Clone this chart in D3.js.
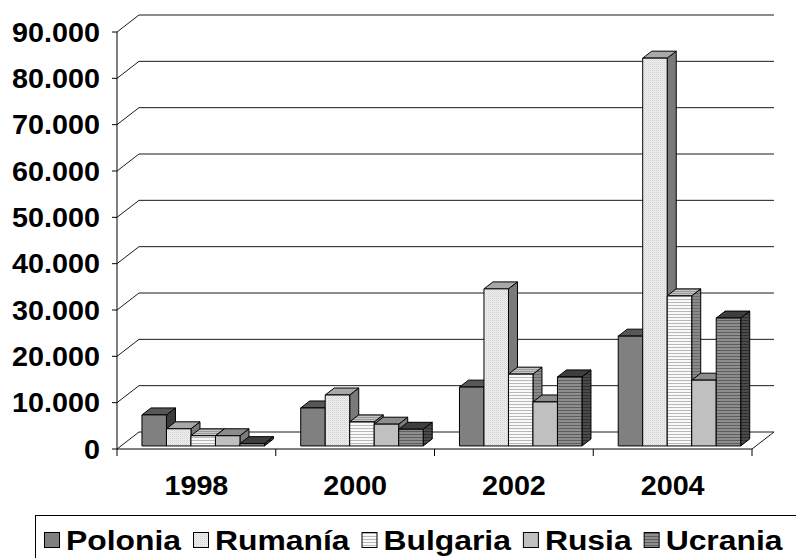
<!DOCTYPE html>
<html>
<head>
<meta charset="utf-8">
<script src="https://cdn.jsdelivr.net/npm/d3@7"></script>
<style>
  html, body { margin: 0; padding: 0; background: #fff; }
  svg { display: block; }
  text { font-family: "Liberation Sans", Arial, sans-serif; font-weight: bold; fill: #000; }
</style>
</head>
<body>
<svg id="chart" width="796" height="558"></svg>
<script>
// Years on the category axis
const years = ["1998", "2000", "2002", "2004"];
// Series names (legend order)
const seriesNames = ["Polonia", "Rumanía", "Bulgaria", "Rusia", "Ucrania"];
// Values per series, one per year
const polonia  = [6700, 8200, 12700, 23700];
const rumania  = [3700, 11000, 33900, 83700];
const bulgaria = [2200, 5200, 15500, 32400];
const rusia    = [2200, 4700, 9500, 14200];
const ucrania  = [500, 3600, 14900, 27600];
// Value-axis ticks
const yTicks = [0, 10000, 20000, 30000, 40000, 50000, 60000, 70000, 80000, 90000];

const seriesValues = [polonia, rumania, bulgaria, rusia, ucrania];

const svg = d3.select("#chart");
const locale = d3.formatLocale({ decimal: ",", thousands: ".", grouping: [3], currency: ["", ""] });
const fmt = locale.format(",d");

// Plot geometry: front plane and depth offset of the back wall
const left = 117, right = 752, DX = 22, DY = -17;
const y = d3.scaleLinear().domain([0, 90000]).range([449, 32]);
const x0 = d3.scaleBand().domain(years).range([left, right]);
const x1 = d3.scaleBand().domain(seriesNames).range([21, 143.5]);
const zFront = 0.18, zBack = 0.59;

// project a point at front-plane x, value v and depth z (0 front .. 1 back)
const P = (x, v, z) => [x + z * DX, y(v) + z * DY];
const poly = pts => "M" + pts.map(p => p.join(",")).join("L") + "Z";

// Fill patterns
const defs = svg.append("defs");
function stripes(id, w, h, base, line, lineY) {
  const p = defs.append("pattern").attr("id", id).attr("patternUnits", "userSpaceOnUse")
    .attr("width", w).attr("height", h);
  p.append("rect").attr("width", w).attr("height", h).attr("fill", base);
  p.append("rect").attr("y", lineY).attr("width", w).attr("height", 1).attr("fill", line);
}
// dotted light fill
const pRum = defs.append("pattern").attr("id", "pRum").attr("patternUnits", "userSpaceOnUse")
  .attr("width", 2).attr("height", 2);
pRum.append("rect").attr("width", 2).attr("height", 2).attr("fill", "#f0f0f0");
pRum.append("rect").attr("width", 1).attr("height", 1).attr("fill", "#d2d2d2");
pRum.append("rect").attr("x", 1).attr("y", 1).attr("width", 1).attr("height", 1).attr("fill", "#e0e0e0");
stripes("pBul", 4, 3, "#f8f8f8", "#b8b8b8", 2);
stripes("pBulSide", 4, 3, "#8a8a8a", "#6a6a6a", 2);
stripes("pBulTop", 4, 2, "#c4c4c4", "#9c9c9c", 1);
stripes("pUcr", 4, 3, "#8e8e8e", "#5e5e5e", 2);
stripes("pUcrSide", 4, 3, "#4a4a4a", "#2e2e2e", 2);

// front / top / side fills per series
const styles = [
  { front: "#808080", top: "#575757", side: "#3c3c3c", legend: "#808080" },
  { front: "url(#pRum)", top: "#a8a8a8", side: "#7a7a7a", legend: "url(#pRum)" },
  { front: "url(#pBul)", top: "url(#pBulTop)", side: "url(#pBulSide)", legend: "url(#pBul)" },
  { front: "#c0c0c0", top: "#8c8c8c", side: "#7c7c7c", legend: "#c0c0c0" },
  { front: "url(#pUcr)", top: "#3e3e3e", side: "url(#pUcrSide)", legend: "url(#pUcr)" }
];

// Walls: gridlines run along the left wall and back wall
const grid = svg.append("g").attr("fill", "none").attr("stroke", "#1a1a1a").attr("stroke-width", 1);
yTicks.forEach(t => {
  const a = [left, y(t)], b = [left + DX, y(t) + DY], c = [right + DX, y(t) + DY];
  grid.append("path").attr("d", `M${a[0]},${a[1]}L${b[0]},${b[1]}L${c[0]},${c[1]}`);
});
// floor right edge
grid.append("path").attr("d", `M${right},${y(0)}L${right + DX},${y(0) + DY}`);

// Bars
const bars = svg.append("g").attr("stroke", "#000").attr("stroke-width", 1).attr("stroke-linejoin", "miter");
years.forEach((yr, j) => {
  seriesNames.forEach((name, i) => {
    const v = seriesValues[i][j];
    const xa = x0(yr) + x1(name), xb = xa + x1.bandwidth();
    const st = styles[i];
    const g = bars.append("g");
    g.append("path").attr("fill", st.side)
      .attr("d", poly([P(xb, 0, zFront), P(xb, v, zFront), P(xb, v, zBack), P(xb, 0, zBack)]));
    g.append("path").attr("fill", st.top)
      .attr("d", poly([P(xa, v, zFront), P(xb, v, zFront), P(xb, v, zBack), P(xa, v, zBack)]));
    g.append("path").attr("fill", st.front)
      .attr("d", poly([P(xa, 0, zFront), P(xb, 0, zFront), P(xb, v, zFront), P(xa, v, zFront)]));
  });
});

// Value axis
const yAxis = svg.append("g");
yAxis.append("line").attr("x1", left).attr("x2", left).attr("y1", y(90000)).attr("y2", y(0))
  .attr("stroke", "#000");
yTicks.forEach(t => {
  yAxis.append("line").attr("x1", left - 5).attr("x2", left).attr("y1", y(t)).attr("y2", y(t))
    .attr("stroke", "#000");
  yAxis.append("text").attr("transform", `translate(100,${y(t)}) scale(1.065,1)`)
    .attr("dy", "0.36em").attr("text-anchor", "end").attr("font-size", 27).text(fmt(t));
});

// Category axis
const xAxis = svg.append("g");
xAxis.append("line").attr("x1", left).attr("x2", right).attr("y1", y(0)).attr("y2", y(0))
  .attr("stroke", "#000");
years.map(yr => x0(yr)).concat([right]).forEach(xx => {
  xAxis.append("line").attr("x1", xx).attr("x2", xx).attr("y1", y(0)).attr("y2", y(0) + 7)
    .attr("stroke", "#000");
});
years.forEach(yr => {
  xAxis.append("text")
    .attr("transform", `translate(${x0(yr) + x0.bandwidth() / 2},495) scale(1.065,1)`)
    .attr("text-anchor", "middle").attr("font-size", 27).text(yr);
});

// Legend
const legend = svg.append("g");
legend.append("rect").attr("x", 35.5).attr("y", 515.5).attr("width", 800).attr("height", 80)
  .attr("fill", "#fff").attr("stroke", "#000");
const sx = 1.18;
let lx = 44;
seriesNames.forEach((name, i) => {
  legend.append("rect").attr("x", lx + 0.5).attr("y", 532.5).attr("width", 15).attr("height", 15)
    .attr("fill", styles[i].legend).attr("stroke", "#000");
  const t = legend.append("text").attr("transform", `translate(${lx + 22},550) scale(${sx},1)`)
    .attr("font-size", 27).text(name);
  lx += 22 + t.node().getComputedTextLength() * sx + 12;
});
</script>
</body>
</html>
